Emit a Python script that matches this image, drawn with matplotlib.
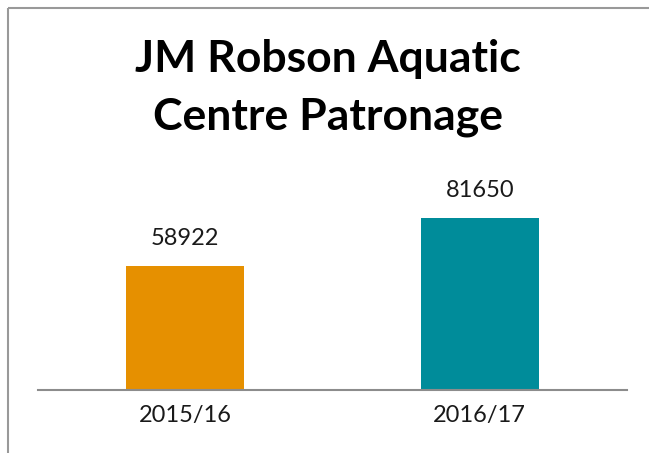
import matplotlib.pyplot as plt
from matplotlib.lines import Line2D

years = ["2015/16", "2016/17"]
patrons = [58922, 81650]
colours = ["#E69000", "#008C9A"]

plt.rcParams['font.family'] = ['Lato', 'DejaVu Sans']

fig = plt.figure(figsize=(6.49, 4.53), dpi=100, frameon=False)
W, H = 649, 453
ax = fig.add_axes([38 / W, 63 / H, (627 - 38) / W, (390 - 179.3) / H])

bars = ax.bar(years, patrons, width=0.4, color=colours)
for b, v in zip(bars, patrons):
    ax.annotate(str(v), (b.get_x() + b.get_width() / 2, v), xytext=(0, 12),
                textcoords="offset points", ha="center", va="bottom",
                fontsize=17, color="#1a1a1a")

ax.set_ylim(0, 100000)
ax.set_xlim(-0.5, 1.5)
ax.set_yticks([])
for s in ["top", "right", "left"]:
    ax.spines[s].set_visible(False)
ax.spines["bottom"].set_color("#8c8c8c")
ax.spines["bottom"].set_linewidth(1.5)
ax.tick_params(axis="x", length=0, pad=11, labelsize=17, labelcolor="#1a1a1a")

fig.text(328 / W, 1 - 88 / H, "JM Robson Aquatic\nCentre Patronage", ha="center",
         va="center", fontsize=32, fontweight="bold", linespacing=1.55)

# outer frame: only the left and top edges are inside the picture
x0, y0 = 8 / W, 1 - 8 / H
fig.add_artist(Line2D([x0, x0], [-0.05, y0], transform=fig.transFigure,
                      color="#999999", linewidth=1.5, solid_capstyle="butt"))
fig.add_artist(Line2D([x0, 1.05], [y0, y0], transform=fig.transFigure,
                      color="#999999", linewidth=1.5, solid_capstyle="butt"))

fig.savefig("out.png", dpi=100, facecolor="white", edgecolor="none")
